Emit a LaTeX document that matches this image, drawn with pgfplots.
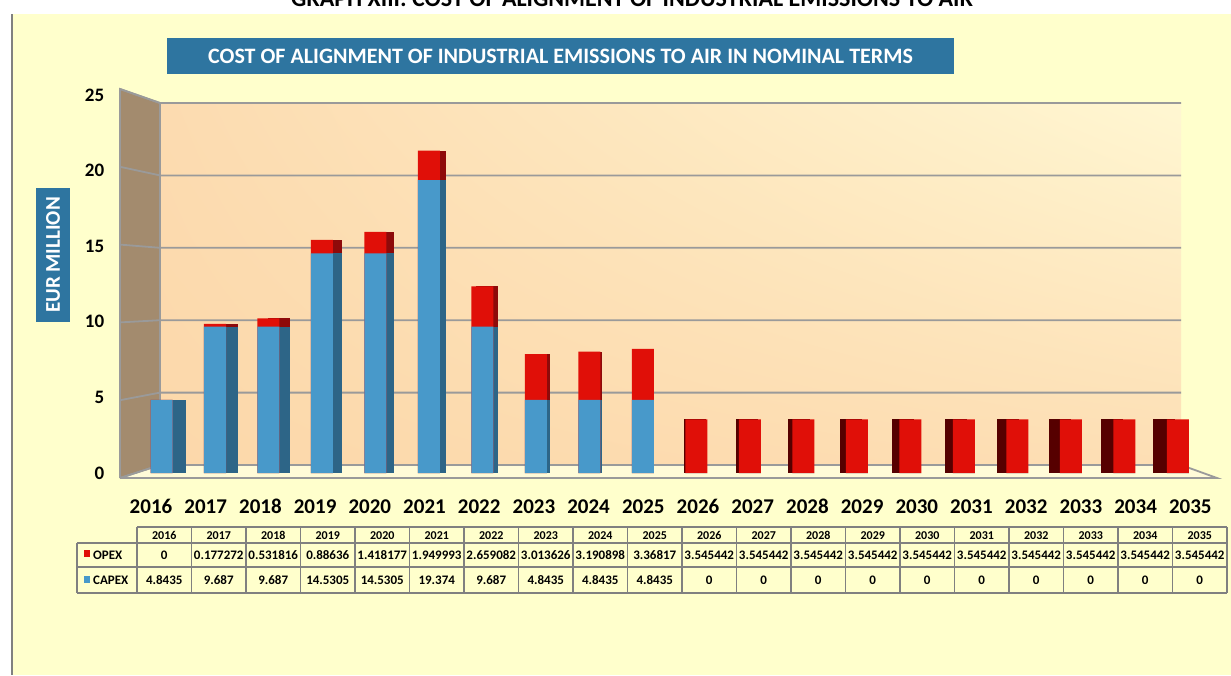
\documentclass[border=0pt]{standalone}
\usepackage{pgfplots}
\pgfplotsset{compat=1.18}
\usepackage{pgfplotstable}
\usetikzlibrary{shadings}
\usepackage{fontspec}
\setmainfont{Carlito}
\definecolor{bgy}{HTML}{FFFFCC}
\definecolor{tbox}{HTML}{2E75A0}
\definecolor{capexf}{HTML}{4899CA}
\definecolor{capexs}{HTML}{2D6587}
\definecolor{opexf}{HTML}{E00F08}
\definecolor{opexsL}{HTML}{8E0A0A}
\definecolor{opexsR}{HTML}{560000}
\definecolor{sidewall}{HTML}{A38B6E}
\definecolor{gridc}{HTML}{9A9A9A}
\definecolor{floorc}{HTML}{FFFBD8}
\definecolor{tline}{HTML}{808080}
\definecolor{wUL}{HTML}{FCDBB0}
\definecolor{wUR}{HTML}{FFF7D2}
\definecolor{wLL}{HTML}{FCD8AA}
\definecolor{wLR}{HTML}{FDDEB4}

\pgfplotstableread{
x capex opex
0 4.8435 0
1 9.687 0.177272
2 9.687 0.531816
3 14.5305 0.88636
4 14.5305 1.418177
5 19.374 1.949993
6 9.687 2.659082
7 4.8435 3.013626
8 4.8435 3.190898
9 4.8435 3.36817
10 0 3.545442
11 0 3.545442
12 0 3.545442
13 0 3.545442
14 0 3.545442
15 0 3.545442
16 0 3.545442
17 0 3.545442
18 0 3.545442
19 0 3.545442
}\data

\begin{document}
\begin{tikzpicture}
\path[use as bounding box, clip] (0pt,0pt) rectangle (1231pt,-675pt);
\begin{scope}[x=1pt,y=-1pt]
  \fill[white] (0,0) rectangle (1231,675);
  \node[anchor=base, font=\fontsize{24}{24}\selectfont\bfseries] at (632,6) {GRAPH XIII: COST OF ALIGNMENT OF INDUSTRIAL EMISSIONS TO AIR};
  \fill[bgy] (12,14) rectangle (1231,675);
  \draw[tline, line width=1.5pt] (12,14) -- (12,675);
  % title box
  \node[fill=tbox, text=white, minimum width=787pt, minimum height=36pt, inner sep=0pt,
        font=\fontsize{22}{22}\selectfont\bfseries] at (560.5,56) {COST OF ALIGNMENT OF INDUSTRIAL EMISSIONS TO AIR IN NOMINAL TERMS};
  % y label box
  \node[fill=tbox, text=white, rotate=90, minimum width=134pt, minimum height=34pt, inner sep=0pt,
        font=\fontsize{21}{21}\selectfont\bfseries] at (53,255) {EUR MILLION};
  % floor
  \fill[floorc] (120,478) -- (1217,478) -- (1181,465) -- (160,465) -- cycle;
  \draw[gridc, line width=1.8pt] (120,478) -- (1217,478) -- (1181,465);
  % back wall
  \shade[upper left=wUL, upper right=wUR, lower left=wLL, lower right=wLR]
         (160,103) rectangle (1181,465);
  % side wall
  \fill[sidewall] (120,89) -- (160,103) -- (160,465) -- (120,478) -- cycle;
  \draw[gridc, line width=1.8pt] (120,478) -- (120,89) -- (160,103) -- (160,465) -- (120,478);
  % grid lines
  \foreach \k in {0,1,2,3,4,5}{
    \draw[gridc, line width=1.8pt] (120,{478-77.8*\k}) -- (160,{465-72.4*\k}) -- (1181,{465-72.4*\k});
  }
\end{scope}

\begin{axis}[
  at={(134.75pt,-473pt)}, anchor=south west,
  scale only axis, width=1070pt, height=378pt,
  xmin=-0.5, xmax=19.5, ymin=0, ymax=25,
  axis line style={draw=none}, major tick length=0pt,
  ytick={0,5,10,15,20,25},
  xtick={-0.196,0.826,1.849,2.871,3.894,4.916,5.939,6.961,7.983,9.006,10.028,11.051,12.073,13.096,14.118,15.140,16.163,17.185,18.208,19.230},
  xticklabels={2016,2017,2018,2019,2020,2021,2022,2023,2024,2025,2026,2027,2028,2029,2030,2031,2032,2033,2034,2035},
  yticklabel style={font=\fontsize{19}{19}\selectfont\bfseries, xshift=-27pt},
  xticklabel style={font=\fontsize{21}{21}\selectfont\bfseries, anchor=base, yshift=-40pt},
  /pgf/number format/assume math mode=true,
  clip=false,
]
\pgfplotsinvokeforeach{0,...,9}{
  \addplot[ybar, bar width=22pt, bar shift={(488.5-53.5*#1)/37*1pt}, fill=opexsL, draw=none,
    x filter/.expression={abs(x-#1)<0.1 ? x : nan}]
    table[x=x, y expr=\thisrow{capex}+\thisrow{opex}]{\data};
  \addplot[ybar, bar width=22pt, bar shift={(488.5-53.5*#1)/37*1pt}, fill=capexs, draw=none,
    x filter/.expression={abs(x-#1)<0.1 ? x : nan}]
    table[x=x, y=capex]{\data};
}
\pgfplotsinvokeforeach{10,...,19}{
  \addplot[ybar, bar width=22pt, bar shift={(488.5-53.5*#1)/37*1pt}, fill=opexsR, draw=none,
    x filter/.expression={abs(x-#1)<0.1 ? x : nan}]
    table[x=x, y expr=\thisrow{capex}+\thisrow{opex}]{\data};
}
\addplot[ybar, bar width=22pt, bar shift=0pt, fill=opexf, draw=none]
  table[x=x, y expr=\thisrow{capex}+\thisrow{opex}]{\data};
\addplot[ybar, bar width=22pt, bar shift=0pt, fill=capexf, draw=none]
  table[x=x, y=capex]{\data};
\end{axis}

\begin{scope}[x=1pt,y=-1pt]
  % data table
  \draw[tline, line width=1.5pt] (137,527) -- (1227,527);
  \draw[tline, line width=1.5pt] (77,543) -- (1227,543);
  \draw[tline, line width=1.5pt] (77,567) -- (1227,567);
  \draw[tline, line width=1.5pt] (77,593) -- (1227,593);
  \draw[tline, line width=1.5pt] (77,543) -- (77,593);
  \foreach \j in {0,...,20}{
    \draw[tline, line width=1.5pt] ({137+54.5*\j},527) -- ({137+54.5*\j},593);
  }
  \foreach \v [count=\j from 0] in {2016,2017,2018,2019,2020,2021,2022,2023,2024,2025,2026,2027,2028,2029,2030,2031,2032,2033,2034,2035}{
    \node[anchor=base, font=\fontsize{12}{12}\selectfont\bfseries] at ({137+54.5*(\j+0.5)},539.5) {\v};
  }
  \foreach \v [count=\j from 0] in {0,0.177272,0.531816,0.88636,1.418177,1.949993,2.659082,3.013626,3.190898,3.36817,3.545442,3.545442,3.545442,3.545442,3.545442,3.545442,3.545442,3.545442,3.545442,3.545442}{
    \node[anchor=base, font=\fontsize{13}{13}\selectfont\bfseries] at ({137+54.5*(\j+0.5)},559.5) {\v};
  }
  \foreach \v [count=\j from 0] in {4.8435,9.687,9.687,14.5305,14.5305,19.374,9.687,4.8435,4.8435,4.8435,0,0,0,0,0,0,0,0,0,0}{
    \node[anchor=base, font=\fontsize{13}{13}\selectfont\bfseries] at ({137+54.5*(\j+0.5)},584.5) {\v};
  }
  \fill[opexf] (84,550) rectangle (90,557);
  \fill[capexf] (84,576) rectangle (90,583);
  \node[anchor=base west, inner sep=0pt, font=\fontsize{13}{13}\selectfont\bfseries] at (93,559) {OPEX};
  \node[anchor=base west, inner sep=0pt, font=\fontsize{13}{13}\selectfont\bfseries] at (93,584.5) {CAPEX};
\end{scope}
\end{tikzpicture}
\end{document}
